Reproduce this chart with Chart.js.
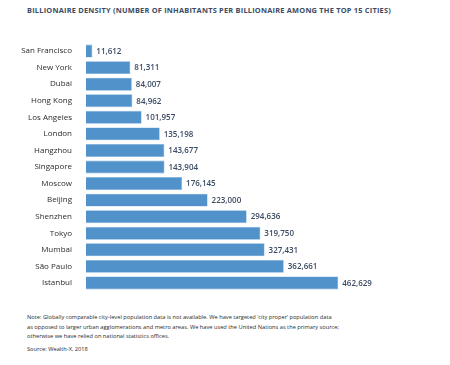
<!DOCTYPE html>
<html>
<head>
<meta charset="utf-8">
<script src="https://cdn.jsdelivr.net/npm/chart.js@4"></script>
<style>
  body { margin: 0; background: #fff; width: 450px; height: 365px; position: relative; overflow: hidden; font-family: "Open Sans", sans-serif; }
  #title { position: absolute; left: 27px; top: 5px; font-size: 7.4px; font-weight: bold; color: #3b4b63; white-space: nowrap; letter-spacing: 0.22px; }
  #box { position: absolute; left: 0; top: 32px; width: 450px; height: 270px; }
  .note { position: absolute; left: 27px; font-size: 5.7px; color: #2a2a2a; white-space: nowrap; line-height: 9.6px; }
</style>
</head>
<body>
<div id="title">BILLIONAIRE DENSITY (NUMBER OF INHABITANTS PER BILLIONAIRE AMONG THE TOP 15 CITIES)</div>
<div id="box"><canvas id="myChart"></canvas></div>
<div class="note" style="top: 313px;">Note: Globally comparable city-level population data is not available. We have targeted ‘city proper’ population data<br>as opposed to larger urban agglomerations and metro areas. We have used the United Nations as the primary source;<br>otherwise we have relied on national statistics offices.</div>
<div class="note" style="top: 345px;">Source: Wealth-X, 2018</div>
<script>
'use strict';
// ---------- Data ------------- //
let cities = ['San Francisco', 'New York', 'Dubai', 'Hong Kong', 'Los Angeles', 'London', 'Hangzhou',
  'Singapore', 'Moscow', 'Beijing', 'Shenzhen', 'Tokyo', 'Mumbai', 'São Paulo', 'Istanbul'];
let inhabitants = [11612, 81311, 84007, 84962, 101957, 135198, 143677,
  143904, 176145, 223000, 294636, 319750, 327431, 362661, 462629];

// ---------- Value labels after each bar ------------- //
let valueLabels = {
  id: 'valueLabels',
  afterDatasetsDraw(chart) {
    let ctx = chart.ctx;
    let meta = chart.getDatasetMeta(0);
    ctx.save();
    ctx.font = '600 8px "Open Sans"';
    ctx.fillStyle = '#3b4b63';
    ctx.textBaseline = 'middle';
    ctx.textAlign = 'left';
    meta.data.forEach(function (bar, i) {
      ctx.fillText(inhabitants[i].toLocaleString('en-US'), bar.x + 4, bar.y + 0.5);
    });
    ctx.restore();
  }
};

let ctx = document.getElementById('myChart').getContext('2d');
let myChart = new Chart(ctx, {
  type: 'bar',
  data: {
    labels: cities,
    datasets: [{
      data: inhabitants,
      backgroundColor: '#5292cb',
      borderColor: '#7fb0dc',
      borderWidth: 0.6,
      categoryPercentage: 0.78,
      barPercentage: 1
    }]
  },
  options: {
    indexAxis: 'y',
    responsive: true,
    maintainAspectRatio: false,
    animation: false,
    layout: { padding: { left: 0, right: 15, top: 0, bottom: 0 } },
    plugins: { legend: { display: false }, tooltip: { enabled: false } },
    scales: {
      x: { display: false, min: 0, max: 640000 },
      y: {
        grid: { display: false },
        border: { display: false },
        ticks: { color: '#2b2b2b', font: { family: 'Open Sans', size: 8 }, padding: 6 },
        afterFit: function (scale) { scale.width = 86; }
      }
    }
  },
  plugins: [valueLabels]
});
</script>
</body>
</html>
